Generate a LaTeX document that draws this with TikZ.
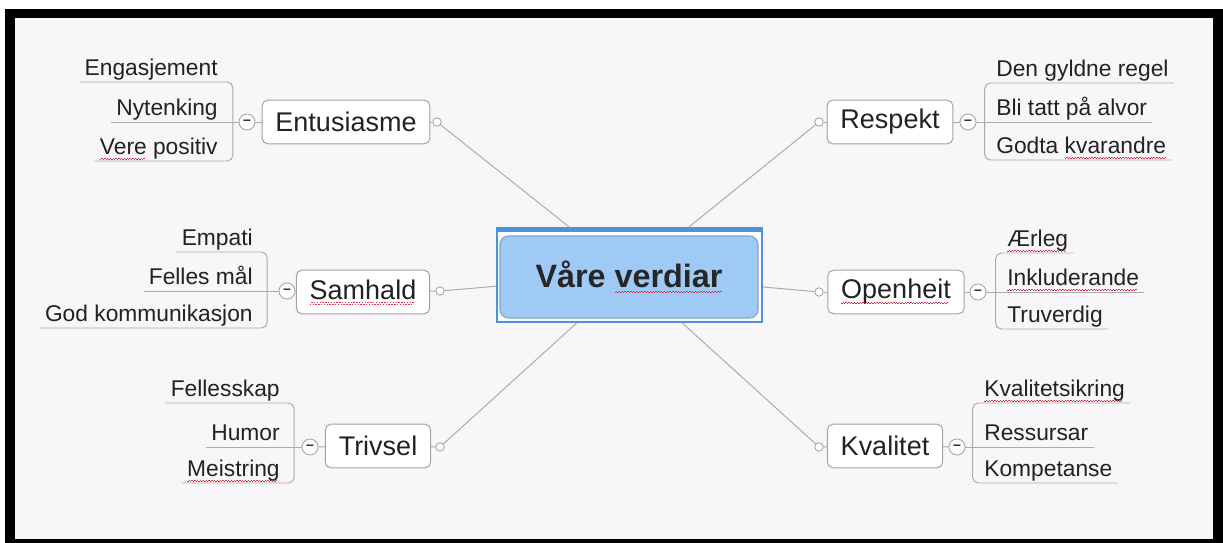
\documentclass[tikz,border=0pt]{standalone}
\usepackage{fontspec}
\setmainfont{Liberation Sans}

\definecolor{bgpink}{HTML}{F8F6F9}
\definecolor{ink}{HTML}{222222}
\definecolor{boxgray}{HTML}{A2A2A6}
\definecolor{linegray}{HTML}{ABABAF}
\definecolor{coreblue}{HTML}{9FCAF6}
\definecolor{coreedge}{HTML}{7FA6CC}
\definecolor{selblue}{HTML}{4B93DC}
\definecolor{spellred}{HTML}{E0304A}

% red wavy spell-check line
\newcommand\spell[1]{\leavevmode\setbox0\hbox{#1}%
  \rlap{\color{spellred}\hbox to\wd0{\leaders\hbox{\rule[-3.6pt]{1pt}{0.5pt}\rule[-2.8pt]{1pt}{0.5pt}}\hfill}}\box0\relax}

\tikzstyle{topic} = [draw=boxgray,fill=white,rounded corners=4pt,line width=0.7pt,
                     minimum height=31pt,inner xsep=9.5pt,text=ink,
                     font=\fontsize{19.2}{22}\selectfont]
\tikzstyle{item}  = [inner xsep=3.6pt,inner ysep=0.3pt,text depth=4pt,text height=12pt,
                     text=ink,font=\fontsize{16.2}{18}\selectfont]
\tikzstyle{knob}  = [circle,draw=boxgray,fill=white,line width=0.6pt,
                     minimum size=6pt,inner sep=0pt]
\tikzstyle{fold}  = [circle,draw=boxgray,fill=white,line width=0.6pt,minimum size=11.4pt,
                     inner sep=0pt,text=ink,font=\fontsize{10}{10}\selectfont\bfseries]
\tikzstyle{link}  = [draw=linegray,line width=0.7pt]
\tikzstyle{selbox} = [draw=selblue,fill=white,line width=1.4pt,
                      minimum width=188.5pt,minimum height=67pt]
\tikzstyle{core}  = [draw=coreedge,fill=coreblue,rounded corners=6pt,line width=0.8pt,
                     minimum width=183.5pt,minimum height=58.3pt,text=black!85,
                     font=\fontsize{23}{26}\selectfont\bfseries]

\begin{document}
\begin{tikzpicture}[x=0.025cm,y=-0.025cm]
  \useasboundingbox (0,0) rectangle (1223,543);
  \fill[black] (5,9) rectangle (1223,543);
  \fill[bgpink] (15,18) rectangle (1213,539);

  % centre
  \node[selbox] at (629.5,275) (vvsel) {};
  \draw[selblue,line width=3.5pt] ([yshift=-1.7pt]vvsel.north west) -- ([yshift=-1.7pt]vvsel.north east);
  \node[core] at (629,277) (vv) {Våre \spell{verdiar}};

  % topics
  \node[topic] at (346,122) (ent) {Entusiasme};
  \node[topic] at (363,292) (sam) {\spell{Samhald}};
  \node[topic] at (378,446) (tri) {Trivsel};
  \node[topic] at (890,122) (res) {Respekt};
  \node[topic] at (896,292) (ope) {\spell{Openheit}};
  \node[topic] at (885,446) (kva) {Kvalitet};

  \node[knob] at (437,122) (ent-k) {};
  \node[knob] at (440,291) (sam-k) {};
  \node[knob] at (440,447) (tri-k) {};
  \node[knob] at (819,122) (res-k) {};
  \node[knob] at (819,292) (ope-k) {};
  \node[knob] at (819,447) (kva-k) {};

  \node[fold] at (247,122) (ent-f) {–};
  \node[fold] at (287,291) (sam-f) {–};
  \node[fold] at (310,447) (tri-f) {–};
  \node[fold] at (968,122) (res-f) {–};
  \node[fold] at (978,292) (ope-f) {–};
  \node[fold] at (957,447) (kva-f) {–};

  % sub items, left
  \node[item,anchor=south east] at (223,82)  (ent1) {Engasjement};
  \node[item,anchor=south east] at (223,122) (ent2) {Nytenking};
  \node[item,anchor=south east] at (223,161) (ent3) {\spell{Vere} positiv};
  \node[item,anchor=south east] at (258,252) (sam1) {Empati};
  \node[item,anchor=south east] at (258,291) (sam2) {Felles mål};
  \node[item,anchor=south east] at (258,328) (sam3) {God kommunikasjon};
  \node[item,anchor=south east] at (285,403) (tri1) {Fellesskap};
  \node[item,anchor=south east] at (285,447) (tri2) {Humor};
  \node[item,anchor=south east] at (285,483) (tri3) {\spell{Meistring}};

  % sub items, right
  \node[item,anchor=south west] at (991,83)   (res1) {Den gyldne regel};
  \node[item,anchor=south west] at (991,122)  (res2) {Bli tatt på alvor};
  \node[item,anchor=south west] at (991,160)  (res3) {Godta \spell{kvarandre}};
  \node[item,anchor=south west] at (1002,253) (ope1) {\spell{Ærleg}};
  \node[item,anchor=south west] at (1002,292) (ope2) {\spell{Inkluderande}};
  \node[item,anchor=south west] at (1002,329) (ope3) {Truverdig};
  \node[item,anchor=south west] at (979,403)  (kva1) {\spell{Kvalitetsikring}};
  \node[item,anchor=south west] at (979,447)  (kva2) {Ressursar};
  \node[item,anchor=south west] at (979,483)  (kva3) {Kompetanse};

  % branches to the centre
  \draw[link] (ent-k) -- (vvsel);
  \draw[link] (sam-k) -- (vvsel);
  \draw[link] (tri-k) -- (vvsel);
  \draw[link] (res-k) -- (vvsel);
  \draw[link] (ope-k) -- (vvsel);
  \draw[link] (kva-k) -- (vvsel);

  \draw[link] (ent) -- (ent-k);
  \draw[link] (sam) -- (sam-k);
  \draw[link] (tri) -- (tri-k);
  \draw[link] (res) -- (res-k);
  \draw[link] (ope) -- (ope-k);
  \draw[link] (kva) -- (kva-k);

  \draw[link] (ent-f) -- (ent);
  \draw[link] (sam-f) -- (sam);
  \draw[link] (tri-f) -- (tri);
  \draw[link] (res-f) -- (res);
  \draw[link] (ope-f) -- (ope);
  \draw[link] (kva-f) -- (kva);

  % brackets and underlines
  \draw[link] (ent-f) -- (ent2.south west);
  \draw[link,rounded corners=4pt] (ent1.south west) -- ([xshift=7pt]ent1.south east) -- ([xshift=7pt]ent3.south east) -- (ent3.south west);
  \draw[link] (sam-f) -- (sam2.south west);
  \draw[link,rounded corners=4pt] (sam1.south west) -- ([xshift=6.5pt]sam1.south east) -- ([xshift=6.5pt]sam3.south east) -- (sam3.south west);
  \draw[link] (tri-f) -- (tri2.south west);
  \draw[link,rounded corners=4pt] (tri1.south west) -- ([xshift=6.5pt]tri1.south east) -- ([xshift=6.5pt]tri3.south east) -- (tri3.south west);

  \draw[link] (res-f) -- (res2.south east);
  \draw[link,rounded corners=4pt] (res1.south east) -- ([xshift=-4.5pt]res1.south west) -- ([xshift=-4.5pt]res3.south west) -- (res3.south east);
  \draw[link] (ope-f) -- (ope2.south east);
  \draw[link,rounded corners=4pt] (ope1.south east) -- ([xshift=-4.5pt]ope1.south west) -- ([xshift=-4.5pt]ope3.south west) -- (ope3.south east);
  \draw[link] (kva-f) -- (kva2.south east);
  \draw[link,rounded corners=4pt] (kva1.south east) -- ([xshift=-4.5pt]kva1.south west) -- ([xshift=-4.5pt]kva3.south west) -- (kva3.south east);
\end{tikzpicture}
\end{document}
